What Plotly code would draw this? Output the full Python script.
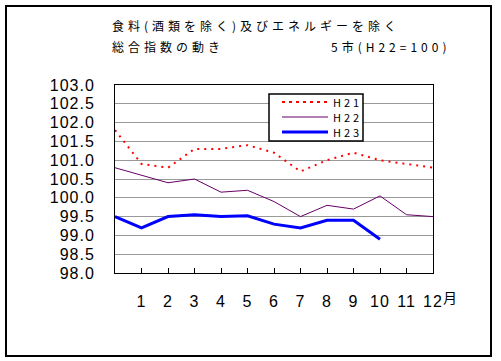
import plotly.graph_objects as go

# ---- data ----
x_pos = list(range(0, 13))
month_labels = ["1", "2", "3", "4", "5", "6", "7", "8", "9", "10", "11", "12"]
series_names = ["H21", "H22", "H23"]
h21 = [101.8, 100.9, 100.8, 101.3, 101.3, 101.4, 101.2, 100.7, 101.0, 101.2, 101.0, 100.9, 100.8]
h22 = [100.8, 100.6, 100.4, 100.5, 100.15, 100.2, 99.9, 99.5, 99.8, 99.7, 100.05, 99.55, 99.5]
h23 = [99.5, 99.2, 99.5, 99.55, 99.5, 99.52, 99.3, 99.2, 99.4, 99.4, 98.9]
y_ticks = [98.0, 98.5, 99.0, 99.5, 100.0, 100.5, 101.0, 101.5, 102.0, 102.5, 103.0]

title1 = "食料(酒類を除く)及びエネルギーを除く"
title2 = "総合指数の動き"
title3 = "5市(H22=100)"
month_suffix = "月"

colors = ["#FF0000", "#660066", "#0000FF"]
widths = [2, 1, 3]
dashes = ["2px,5px", "solid", "solid"]

# ---- layout geometry (pixels) ----
W, H = 501, 361
L, R, T, B = 115, 68, 85, 88
PW, PH = W - L - R, H - T - B


def px(xp):
    return (xp - L) / PW


def py(yp):
    return (H - B - yp) / PH


FONT = "Noto Sans CJK JP"
NUMFONT = "Liberation Sans"

fig = go.Figure()
for name, ys, c, w, d in zip(series_names, [h21, h22, h23], colors, widths, dashes):
    fig.add_trace(go.Scatter(
        x=x_pos[:len(ys)], y=ys, mode="lines", name=name,
        line=dict(color=c, width=w, dash=d), showlegend=False,
    ))

shapes = []
annotations = []

# outer border
shapes.append(dict(type="rect", xref="paper", yref="paper",
                   x0=px(6), x1=px(491), y0=py(356), y1=py(6),
                   line=dict(color="black", width=2), layer="below"))

# manual legend
shapes.append(dict(type="rect", xref="paper", yref="paper",
                   x0=px(269), x1=px(363), y0=py(141), y1=py(94),
                   line=dict(color="black", width=1.5), fillcolor="white", layer="above"))
leg_y = [102, 117, 132]
for name, c, w, d, yy in zip(series_names, colors, widths, dashes, leg_y):
    shapes.append(dict(type="line", xref="paper", yref="paper",
                       x0=px(282), x1=px(328), y0=py(yy), y1=py(yy),
                       line=dict(color=c, width=w, dash=d if d != "2px,5px" else "3px,4px"),
                       layer="above"))
    annotations.append(dict(xref="paper", yref="paper", x=px(331), y=py(yy),
                            xanchor="left", yanchor="middle", showarrow=False,
                            text=f'<span style="letter-spacing:3px">{name}</span>',
                            font=dict(family=FONT, size=11, color="black")))

# titles
for txt, xx, yy in [(title1, 110, 25), (title2, 110, 46), (title3, 329, 46)]:
    annotations.append(dict(xref="paper", yref="paper", x=px(xx), y=py(yy),
                            xanchor="left", yanchor="middle", showarrow=False,
                            text=f'<span style="letter-spacing:4px">{txt}</span>',
                            font=dict(family=FONT, size=12, color="black")))

# month suffix after last tick label
annotations.append(dict(xref="paper", yref="paper", x=px(441), y=py(297),
                        xanchor="left", yanchor="middle", showarrow=False,
                        text=month_suffix, font=dict(family=FONT, size=14, color="black")))

y_text = [f'<span style="letter-spacing:1px">{v:.1f}</span>' for v in y_ticks]
x_text = [f'<span style="letter-spacing:1px">{m}</span>' for m in month_labels]

fig.update_layout(
    width=W, height=H,
    margin=dict(l=L, r=R, t=T, b=B, autoexpand=False),
    paper_bgcolor="white", plot_bgcolor="white",
    shapes=shapes, annotations=annotations,
    showlegend=False,
    xaxis=dict(range=[0, 12], tickvals=list(range(1, 13)), ticktext=x_text,
               ticks="inside", ticklen=5, tickcolor="black", tickwidth=1,
               showgrid=False, zeroline=False, showline=True, linecolor="black",
               linewidth=1, mirror=True, ticklabelstandoff=14, automargin=False,
               tickfont=dict(family=NUMFONT, size=16, color="black")),
    yaxis=dict(range=[98, 103], tickvals=y_ticks, ticktext=y_text,
               ticks="", showgrid=True, gridcolor="#999999", gridwidth=1,
               zeroline=False, showline=True, linecolor="black", linewidth=1,
               mirror=True, ticklabelstandoff=16, automargin=False,
               tickfont=dict(family=NUMFONT, size=16, color="black")),
)

fig.write_html("out.html", config={"displayModeBar": False},
               post_script="document.body.style.margin='0';document.body.style.overflow='hidden';")
